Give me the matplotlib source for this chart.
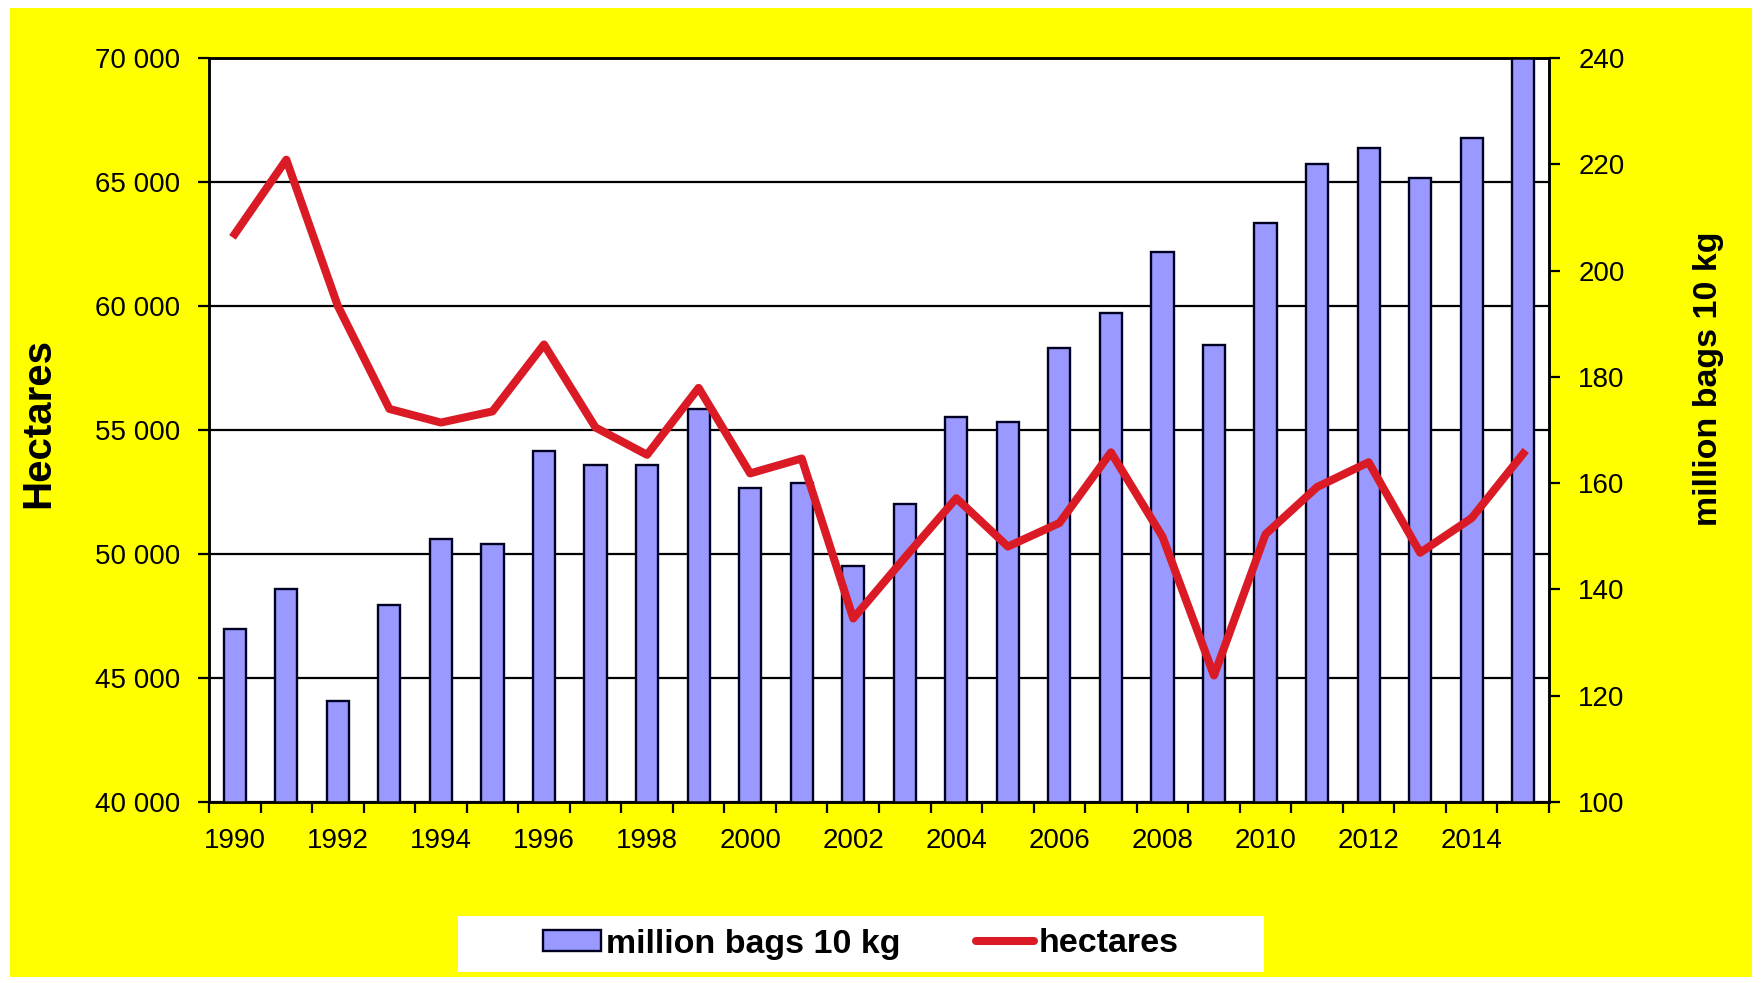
import numpy as np
import matplotlib.pyplot as plt
from matplotlib.patches import Rectangle
from matplotlib.lines import Line2D
from matplotlib.ticker import FuncFormatter

plt.rcParams['font.family'] = ['Liberation Sans', 'DejaVu Sans']

years = list(range(1990, 2016))
bags = [132.5, 140, 119, 137, 149.5, 148.5, 166, 163.5, 163.5, 174,
        159, 160, 144.5, 156, 172.5, 171.5, 185.5, 192, 203.5, 186,
        209, 220, 223, 217.5, 225, 250]
hectares = [62900, 65900, 60000, 55850, 55300, 55750, 58450, 55100, 54000, 56700,
            53250, 53850, 47400, 49850, 52250, 50300, 51250, 54100, 50700, 45100,
            50800, 52700, 53700, 50050, 51450, 54050]

BAR_COLOR = '#9999ff'
LINE_COLOR = '#da1b26'
YELLOW = '#ffff00'

W, H = 1762, 983
fig = plt.figure(figsize=(W / 100, H / 100), dpi=100, facecolor='white')

# yellow chart area and white legend box (pixel positions -> figure fraction)
def figbox(x0, y0, x1, y1, **kw):
    r = Rectangle((x0 / W, 1 - y1 / H), (x1 - x0) / W, (y1 - y0) / H,
                  transform=fig.transFigure, **kw)
    fig.patches.append(r)

figbox(10, 8, 1752, 977, facecolor=YELLOW, edgecolor='none', zorder=-2)
figbox(458, 916, 1264, 972, facecolor='white', edgecolor='none', zorder=-1)

rect = [209 / W, 1 - 802 / H, (1549 - 209) / W, (802 - 58) / H]
ax = fig.add_axes(rect)
ax.set_facecolor('white')

x = np.arange(len(years))

# left axis: hectares scale + horizontal grid
ax.set_ylim(40000, 70000)
ax.set_yticks(np.arange(40000, 70001, 5000))
ax.yaxis.set_major_formatter(FuncFormatter(lambda v, p: f"{v:,.0f}".replace(",", " ")))
ax.grid(axis='y', color='black', linewidth=1.6)
ax.set_axisbelow(True)

ax.set_xlim(-0.5, len(years) - 0.5)
ax.set_xticks(x[::2])
ax.set_xticklabels([str(y) for y in years[::2]])
ax.set_xticks(np.arange(-0.5, len(years), 1), minor=True)
ax.tick_params(axis='x', which='major', length=0, pad=19, labelsize=20)
ax.tick_params(axis='x', which='minor', length=8, width=1.6, direction='out')
ax.tick_params(axis='y', length=8, width=1.6, pad=13, labelsize=20)

for s in ax.spines.values():
    s.set_color('black')
    s.set_linewidth(1.8)

# right axis: bars
ax2 = ax.twinx()
ax2.bar(x, bags, width=0.43, color=BAR_COLOR, edgecolor='#000022', linewidth=1.7, zorder=2)
ax2.set_ylim(100, 240)
ax2.set_yticks(np.arange(100, 241, 20))
ax2.tick_params(axis='y', length=8, width=1.6, pad=13, labelsize=20)
for s in ax2.spines.values():
    s.set_color('black')
    s.set_linewidth(1.8)

# line on top of the bars, same scale as the left axis
ax3 = ax.twinx()
ax3.set_ylim(ax.get_ylim())
ax3.plot(x, hectares, color=LINE_COLOR, linewidth=5.8, solid_joinstyle='round')
ax3.axis('off')

fig.text(38 / W, 1 - 423 / H, 'Hectares', rotation=90, ha='center', va='center',
         fontsize=29, fontweight='bold')
fig.text(1708 / W, 1 - 379 / H, 'million bags 10 kg', rotation=90, ha='center', va='center',
         fontsize=24.5, fontweight='bold')

handles = [Rectangle((0, 0), 1, 1, facecolor=BAR_COLOR, edgecolor='#000022', linewidth=1.7),
           Line2D([0], [0], color=LINE_COLOR, linewidth=5.8, solid_capstyle='round')]
fig.legend(handles, ['million bags 10 kg', 'hectares'], loc='center',
           bbox_to_anchor=(861 / W, 1 - 944 / H), ncol=2, frameon=False,
           prop={'size': 24.5, 'weight': 'bold'}, handlelength=1.7, handleheight=0.55,
           handletextpad=0.15, columnspacing=2.2)

fig.savefig('out.png', dpi=100)
